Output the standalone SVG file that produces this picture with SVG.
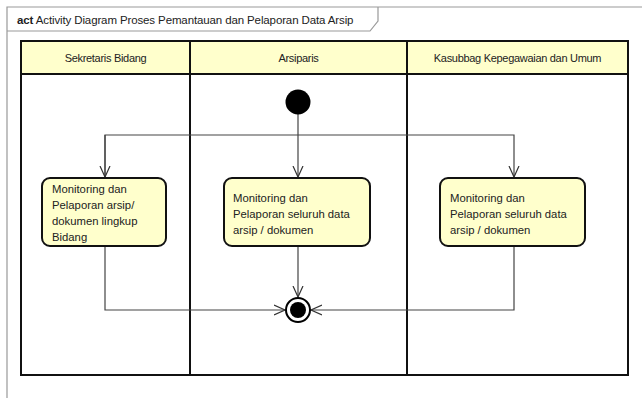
<svg xmlns="http://www.w3.org/2000/svg" width="642" height="398" viewBox="0 0 642 398">
  <style>
    text { font-family: "Liberation Sans", Arial, sans-serif; font-size: 11.3px; fill: #222; }
    .title { font-size: 11.5px; letter-spacing: -0.12px; }
    .lanehead { font-size: 11px; letter-spacing: -0.3px; }
    .frame { fill: none; stroke: #999; stroke-width: 1.2; }
    .lane { fill: none; stroke: #111; stroke-width: 2; }
    .head { fill: #FFFFCC; stroke: #111; stroke-width: 2; }
    .action rect { fill: #FFFFCC; stroke: #111; stroke-width: 2; }
    .flow { fill: none; stroke: #444; stroke-width: 1.2; }
  </style>
  <defs>
    <marker id="open" viewBox="0 0 12 12" refX="11" refY="6" markerWidth="12" markerHeight="12" markerUnits="userSpaceOnUse" orient="auto">
      <path d="M0,1 L11,6 L0,11" fill="none" stroke="#333" stroke-width="1.2"/>
    </marker>
  </defs>
  <rect width="642" height="398" fill="#fff"/>

  <!-- diagram frame with title tab -->
  <g id="frame">
    <path class="frame" d="M7,400 L7,7 L645,7"/>
    <path class="frame" d="M7,31 L370,31 L378,21 L378,7"/>
    <text class="title" x="17" y="24"><tspan font-weight="bold">act</tspan> Activity Diagram Proses Pemantauan dan Pelaporan Data Arsip</text>
  </g>

  <!-- swimlane partitions -->
  <g id="lanes">
    <rect class="head" x="21" y="41" width="607" height="33"/>
    <rect class="lane" x="21" y="41" width="607" height="334"/>
    <line class="lane" x1="190" y1="41" x2="190" y2="375"/>
    <line class="lane" x1="407" y1="41" x2="407" y2="375"/>
    <text class="lanehead" x="105.5" y="62" text-anchor="middle">Sekretaris Bidang</text>
    <text class="lanehead" x="298.5" y="62" text-anchor="middle">Arsiparis</text>
    <text class="lanehead" x="517.5" y="62" text-anchor="middle">Kasubbag Kepegawaian dan Umum</text>
  </g>

  <!-- control flows -->
  <g id="connectors">
    <line class="flow" x1="298" y1="114" x2="298" y2="177" marker-end="url(#open)"/>
    <polyline class="flow" points="105,177 105,135 514,135 514,177" marker-end="url(#open)"/>
    <line class="flow" x1="105" y1="135" x2="105" y2="177" marker-end="url(#open)"/>
    <polyline class="flow" points="105,246 105,310 285,310" marker-end="url(#open)"/>
    <line class="flow" x1="298" y1="246" x2="298" y2="297" marker-end="url(#open)"/>
    <polyline class="flow" points="514,246 514,310 311,310" marker-end="url(#open)"/>
  </g>

  <g id="initial">
    <circle cx="298" cy="102" r="12.5" fill="#000"/>
  </g>

  <g id="action-sekretaris" class="action">
    <rect x="42" y="178" width="124" height="68" rx="8"/>
    <text x="52" y="193">Monitoring dan</text>
    <text x="52" y="209">Pelaporan arsip/</text>
    <text x="52" y="225">dokumen lingkup</text>
    <text x="52" y="241">Bidang</text>
  </g>

  <g id="action-arsiparis" class="action">
    <rect x="224" y="178" width="146" height="68" rx="8"/>
    <text x="233" y="202">Monitoring dan</text>
    <text x="233" y="218">Pelaporan seluruh data</text>
    <text x="233" y="234">arsip / dokumen</text>
  </g>

  <g id="action-kasubbag" class="action">
    <rect x="440" y="178" width="145" height="68" rx="8"/>
    <text x="450" y="202">Monitoring dan</text>
    <text x="450" y="218">Pelaporan seluruh data</text>
    <text x="450" y="234">arsip / dokumen</text>
  </g>

  <g id="final">
    <circle cx="298" cy="310" r="12" fill="#fff" stroke="#000" stroke-width="2"/>
    <circle cx="298" cy="310" r="8" fill="#000"/>
  </g>
</svg>
